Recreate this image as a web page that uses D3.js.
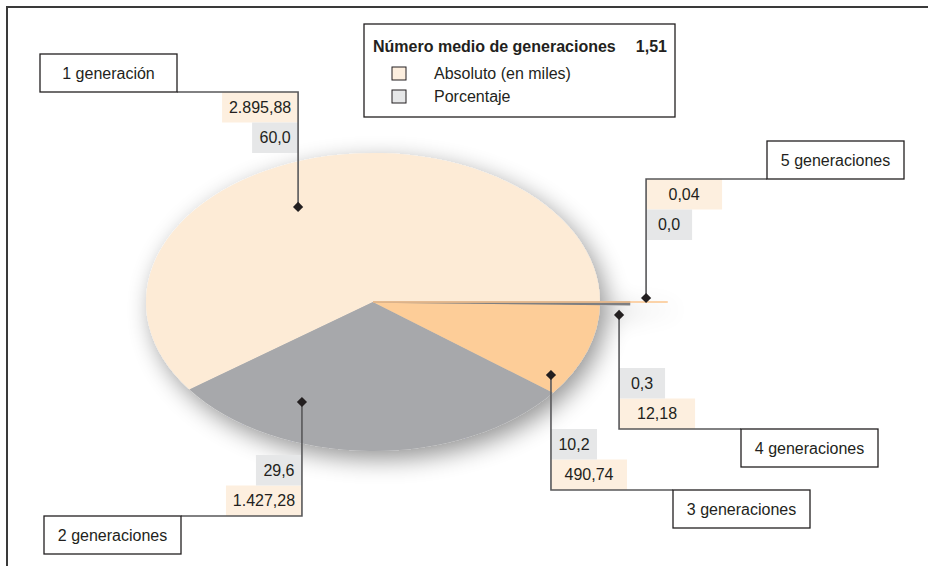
<!DOCTYPE html>
<html><head><meta charset="utf-8">
<script src="https://cdn.jsdelivr.net/npm/d3@7"></script>
<style>
body{margin:0;background:#fff}
svg{display:block;font-family:"Liberation Sans",Arial,Helvetica,sans-serif}
</style>
</head><body>
<svg id="chart" width="928" height="566"></svg>
<script>
// ---- data ----
const categories = ["1 generación","2 generaciones","3 generaciones","4 generaciones","5 generaciones"];
const absoluteValues = [2895.88, 1427.28, 490.74, 12.18, 0.04];
const percentValues = [60.0, 29.6, 10.2, 0.3, 0.0];
const legendTitle = "Número medio de generaciones";
const legendMean = 1.51;
const legendItems = ["Absoluto (en miles)", "Porcentaje"];

// ---- style / layout ----
const sliceColors = ["#fdebd6", "#a7a8ab", "#fdcd98", "#7e7f82", "#fbc58f"];
const absColor = "#fdefdf", pctColor = "#e6e7e8";
const ink = "#231f20", leaderColor = "#58585a";
const FS = 16;
const cx = 373, cy = 302, rx = 227, ry = 149;
const outerFactor = [1, 1, 1, 1.13, 1.295];
// callout layout: anchor offset in units of radii, elbow y, label box x
const calloutLayout = [
  {ax:-0.330, ay:-0.638, elbowY:92,  boxX:40,  boxAbove:true,  valLeft:true,  valBelow:true},
  {ax:-0.313, ay: 0.671, elbowY:516, boxX:44,  boxAbove:false, valLeft:true,  valBelow:false},
  {ax: 0.784, ay: 0.490, elbowY:490, boxX:673, boxAbove:false, valLeft:false, valBelow:false},
  {ax: 1.084, ay: 0.087, elbowY:429, boxX:741, boxAbove:false, valLeft:false, valBelow:false},
  {ax: 1.203, ay:-0.027, elbowY:179, boxX:767, boxAbove:true,  valLeft:false, valBelow:true}
];
const boxW = 137, boxH = 38, absW = 76, pctW = 46, valH = 30.5;

const loc = d3.formatLocale({decimal:",", thousands:".", grouping:[3], currency:["","€"]});
const fmtAbs = loc.format(",.2f"), fmtPct = loc.format(",.1f"), fmtMean = loc.format(",.2f");

const svg = d3.select("#chart");
const defs = svg.append("defs");
const f = defs.append("filter").attr("id","shadow")
  .attr("x","-30%").attr("y","-30%").attr("width","160%").attr("height","170%");
f.append("feGaussianBlur").attr("in","SourceAlpha").attr("stdDeviation",12);
f.append("feOffset").attr("dx",6).attr("dy",8);
f.append("feComponentTransfer").append("feFuncA").attr("type","linear").attr("slope",0.42);
const fm = f.append("feMerge");
fm.append("feMergeNode");
fm.append("feMergeNode").attr("in","SourceGraphic");

// frame
svg.append("path").attr("d","M7,566V7H928").attr("fill","none")
  .attr("stroke","#3a3a3a").attr("stroke-width",2);

// ---- pie ----
const pie = d3.pie().sort(null).value(d => d)
  .startAngle(Math.PI/2).endAngle(Math.PI/2 - 2*Math.PI);
const arcs = pie(absoluteValues);
const pieOuter = svg.append("g").attr("filter","url(#shadow)");
const pieG = pieOuter.append("g")
  .attr("transform",`translate(${cx},${cy}) scale(1,${ry/rx})`);
pieG.selectAll("path").data(arcs).join("path")
  .attr("d",(d,i) => d3.arc().innerRadius(0).outerRadius(rx*outerFactor[i])(d))
  .attr("fill",(d,i) => sliceColors[i])
  .attr("stroke",(d,i) => i >= 3 ? sliceColors[i] : "none")
  .attr("stroke-width",1.6)
  .attr("vector-effect","non-scaling-stroke");

// ---- callouts ----
const cg = svg.append("g");
calloutLayout.forEach((L, i) => {
  const axp = cx + L.ax*rx, ayp = cy + L.ay*ry;
  const bx0 = L.boxX, bx1 = L.boxX + boxW;
  const hx = L.valLeft ? bx1 : bx0;
  const rows = [
    {w:absW, fill:absColor, txt:fmtAbs(absoluteValues[i])},
    {w:pctW, fill:pctColor, txt:fmtPct(percentValues[i])}
  ];
  rows.forEach((r, k) => {
    const y0 = L.valBelow ? L.elbowY + k*valH : L.elbowY - (k+1)*valH;
    const x0 = L.valLeft ? axp - r.w : axp;
    cg.append("rect").attr("x",x0).attr("y",y0).attr("width",r.w).attr("height",valH)
      .attr("fill",r.fill);
    cg.append("text").attr("x",x0 + r.w/2).attr("y",y0 + valH/2 + 5.5)
      .attr("text-anchor","middle").attr("font-size",FS).attr("fill",ink).text(r.txt);
  });
  cg.append("path").attr("d",`M${axp},${ayp}V${L.elbowY}H${hx}`)
    .attr("fill","none").attr("stroke",leaderColor).attr("stroke-width",1.6);
  cg.append("path").attr("d",d3.symbol(d3.symbolSquare, 52)())
    .attr("transform",`translate(${axp},${ayp}) rotate(45)`).attr("fill",ink);
  const by = L.boxAbove ? L.elbowY - boxH : L.elbowY;
  cg.append("rect").attr("x",bx0).attr("y",by).attr("width",boxW).attr("height",boxH)
    .attr("fill","#fff").attr("stroke",ink).attr("stroke-width",1.3);
  cg.append("text").attr("x",bx0 + boxW/2).attr("y",by + boxH/2 + 5.5)
    .attr("text-anchor","middle").attr("font-size",FS).attr("fill",ink).text(categories[i]);
});

// ---- legend ----
const lg = svg.append("g");
lg.append("rect").attr("x",364).attr("y",24).attr("width",311).attr("height",93)
  .attr("fill","#fff").attr("stroke",ink).attr("stroke-width",1.3);
lg.append("text").attr("x",373).attr("y",52).attr("font-size",FS).attr("font-weight","bold")
  .attr("fill",ink).text(legendTitle);
lg.append("text").attr("x",667).attr("y",52).attr("font-size",FS).attr("font-weight","bold")
  .attr("text-anchor","end").attr("fill",ink).text(fmtMean(legendMean));
const swatchFill = [absColor, pctColor];
legendItems.forEach((t, k) => {
  const y = 67 + k*23;
  lg.append("rect").attr("x",392).attr("y",y).attr("width",14).attr("height",13)
    .attr("fill",swatchFill[k]).attr("stroke",ink).attr("stroke-width",1);
  lg.append("text").attr("x",434).attr("y",y + 12).attr("font-size",FS).attr("fill",ink).text(t);
});
</script>
</body></html>
